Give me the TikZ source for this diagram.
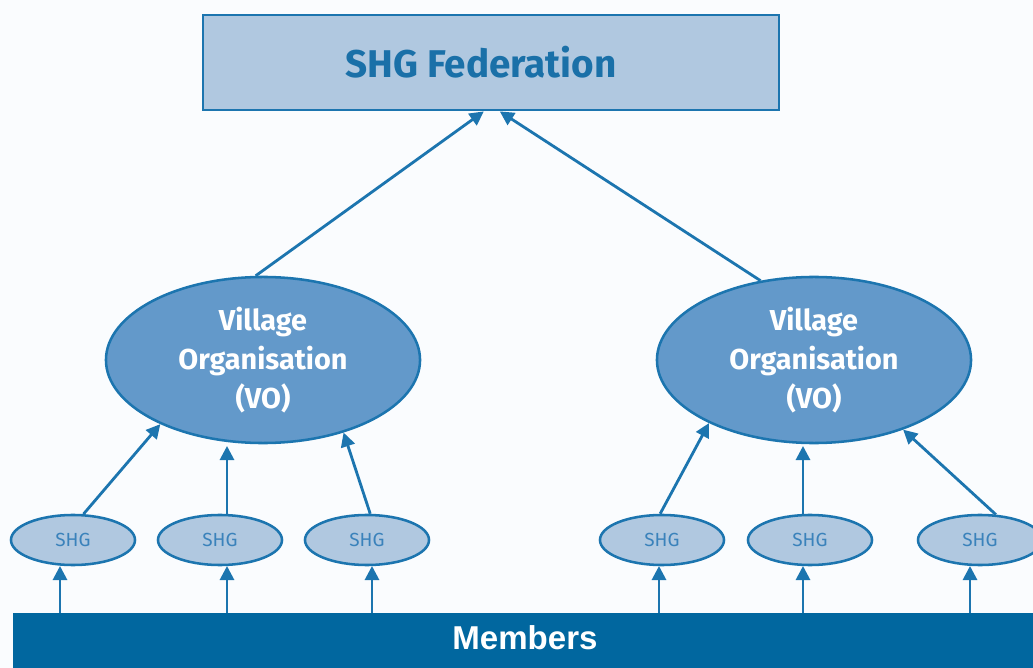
\documentclass[tikz,border=0pt]{standalone}
\usepackage{fontspec}
\setmainfont{Fira Sans}
\newfontfamily\memfont{Liberation Sans}
\usetikzlibrary{shapes.geometric,arrows.meta}
\definecolor{edge}{HTML}{1C75AF}
\definecolor{light}{HTML}{B0C8E0}
\definecolor{mid}{HTML}{6399CA}
\definecolor{bar}{HTML}{01679F}
\definecolor{shgtext}{HTML}{3A82BB}
\definecolor{fedtext}{HTML}{1A70A8}
\definecolor{bg}{HTML}{FAFCFE}
\tikzset{
  fedbox/.style={draw=edge,line width=2pt,fill=light,minimum width=14.4cm,minimum height=2.375cm,inner sep=0pt,text=fedtext,font=\fontsize{27.5}{32}\selectfont\bfseries},
  vobox/.style={ellipse,draw=edge,line width=1.8pt,fill=mid,minimum width=7.85cm,minimum height=4.15cm,inner sep=0pt,text=white,align=center,font=\fontsize{20.5}{27.5}\selectfont\bfseries},
  shgbox/.style={ellipse,draw=edge,line width=1.8pt,fill=light,minimum width=3.1cm,minimum height=1.25cm,inner sep=0pt,text=shgtext,font=\fontsize{13.5}{15}\selectfont\mdseries},
  barbox/.style={fill=bar,minimum width=25.5cm,minimum height=1.375cm,inner sep=0pt},
  memtext/.style={text=white,font=\memfont\fontsize{23.5}{26}\selectfont\bfseries},
  arr/.style={draw=edge,line width=2pt,-{Triangle[length=10pt,width=10pt]}}
}
\begin{document}
\begin{tikzpicture}[x=0.025cm,y=-0.025cm]
\fill[bg] (0,0) rectangle (1033,668);
\useasboundingbox (0,0) rectangle (1033,668);
\node[fedbox] (fed) at (491,62.5) {\hspace*{-0.5cm}SHG Federation};
\node[vobox] (vo1) at (263,360) {Village\\Organisation\\(VO)};
\node[vobox] (vo2) at (814,360) {Village\\Organisation\\(VO)};
\node[shgbox] (s1) at (73,540) {SHG};
\node[shgbox] (s2) at (220,540) {SHG};
\node[shgbox] (s3) at (367,540) {SHG};
\node[shgbox] (s4) at (662,540) {SHG};
\node[shgbox] (s5) at (810,540) {SHG};
\node[shgbox] (s6) at (980,540) {SHG};
\node[barbox,anchor=north west] (bar) at (13,613) {};
\node[memtext] (mem) at (525,638) {Members};
% members to SHG
\coordinate (m1) at (60,613);
\coordinate (m2) at (227,613);
\coordinate (m3) at (372,613);
\coordinate (m4) at (659,613);
\coordinate (m5) at (803,613);
\coordinate (m6) at (970,613);
\coordinate (t1) at (60,566);
\coordinate (t2) at (227,566);
\coordinate (t3) at (372,566);
\coordinate (t4) at (659,566);
\coordinate (t5) at (803,566);
\coordinate (t6) at (970,566);
\foreach \i in {1,...,6} \draw[arr] (m\i) -- (t\i);
% SHG to VO
\coordinate (v2) at (227,446);
\coordinate (v5) at (803,446);
\draw[arr] (s1.68) -- (vo1.212);
\draw[arr] (s2.north -| v2) -- (v2);
\draw[arr] (s3.83) -- (vo1.318);
\draw[arr] (s4.94) -- (vo2.211);
\draw[arr] (s5.north -| v5) -- (v5);
\draw[arr] (s6.58) -- (vo2.322);
% VO to federation
\draw[arr] (vo1.95) -- ([xshift=-0.18cm]fed.south);
\draw[arr] (vo2.124) -- ([xshift=0.22cm]fed.south);
\end{tikzpicture}
\end{document}
